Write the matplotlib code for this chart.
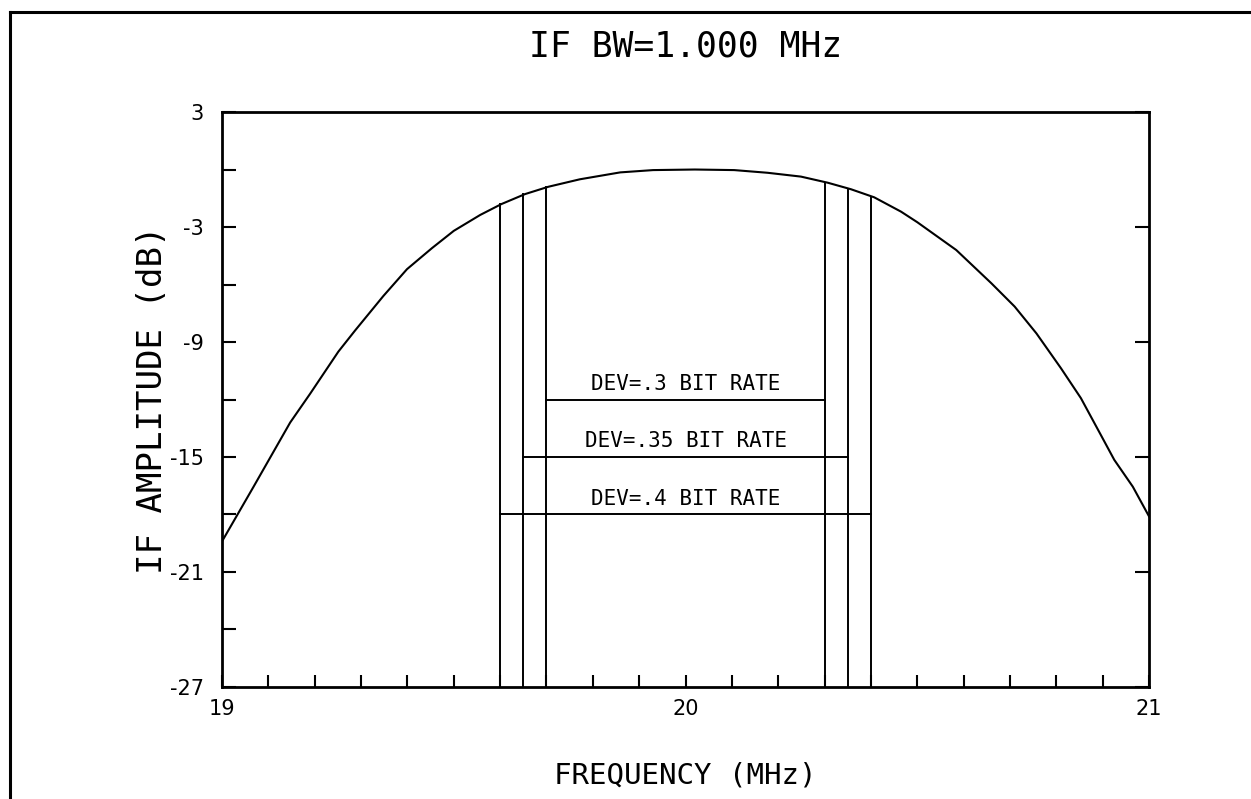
#if filter response chart with deviation markers
import numpy as np
import matplotlib
matplotlib.use("Agg")
import matplotlib.pyplot as plt
from matplotlib.lines import Line2D
from matplotlib.ticker import MultipleLocator, FixedLocator

#curve (MHz, dB)
freq_mhz = [19.0, 19.068, 19.147, 19.19, 19.251, 19.287, 19.348, 19.399, 19.453,
            19.5, 19.557, 19.603, 19.654, 19.704, 19.772, 19.859, 19.93, 20.02,
            20.105, 20.177, 20.249, 20.307, 20.357, 20.407, 20.465, 20.5, 20.584,
            20.66, 20.71, 20.757, 20.81, 20.853, 20.896, 20.925, 20.965, 21.0]
amp_db = [-19.4, -16.55, -13.2, -11.7, -9.5, -8.4, -6.6, -5.2, -4.1,
          -3.2, -2.37, -1.8, -1.28, -0.9, -0.51, -0.15, -0.03, 0.0,
          -0.03, -0.17, -0.37, -0.69, -1.03, -1.45, -2.2, -2.75, -4.2,
          -5.94, -7.15, -8.55, -10.37, -11.93, -13.85, -15.15, -16.55, -18.1]

#deviation markers
dev_labels = ["DEV=.3 BIT RATE", "DEV=.35 BIT RATE", "DEV=.4 BIT RATE"]
dev_lo = [19.7, 19.65, 19.6]
dev_hi = [20.3, 20.35, 20.4]
dev_level = [-12, -15, -18]
edge_lo_db = [-0.9, -1.28, -1.8]
edge_hi_db = [-0.69, -1.03, -1.45]

x_ticks = [19, 20, 21]
y_ticks = [3, -3, -9, -15, -21, -27]

fig = plt.figure(figsize=(12.51, 7.99), dpi=100)
ax = fig.add_axes([0.1775, 0.1402, 0.741, 0.7196])

ax.plot(freq_mhz, amp_db, color="black", lw=1.5)

for lab, lo, hi, lev, top_lo, top_hi in zip(dev_labels, dev_lo, dev_hi, dev_level, edge_lo_db, edge_hi_db):
    ax.plot([lo, lo], [-27, top_lo], color="black", lw=1.4)
    ax.plot([hi, hi], [-27, top_hi], color="black", lw=1.4)
    ax.plot([lo, hi], [lev, lev], color="black", lw=1.4)
    ax.annotate(lab, xy=((lo + hi) / 2, lev), xytext=(0, 4), textcoords="offset points",
                ha="center", va="bottom", fontsize=15, family="DejaVu Sans Mono")

ax.set_xlim(19, 21)
ax.set_ylim(-27, 3)
ax.set_xticks(x_ticks)
ax.set_xticklabels([str(v) for v in x_ticks])
ax.xaxis.set_minor_locator(MultipleLocator(0.1))
ax.set_yticks(y_ticks)
ax.set_yticklabels([str(v) for v in y_ticks])
ax.yaxis.set_minor_locator(FixedLocator([0, -6, -12, -18, -24]))

ax.tick_params(axis="x", which="both", direction="in", length=9, width=1.5,
               top=False, labelsize=15, pad=9)
ax.tick_params(axis="y", which="major", direction="in", length=10, width=1.5,
               left=True, right=True, labelsize=15, pad=13)
ax.tick_params(axis="y", which="minor", direction="in", length=10, width=1.5,
               left=True, right=False)
for s in ax.spines.values():
    s.set_linewidth(2)

ax.set_title("IF BW=1.000 MHz", fontsize=25, family="DejaVu Sans Mono", pad=40)
ax.set_xlabel("FREQUENCY (MHz)", fontsize=21, family="DejaVu Sans Mono", labelpad=30)
ax.set_ylabel("IF AMPLITUDE (dB)", fontsize=24.5, family="DejaVu Sans Mono", labelpad=1)

#outer page frame
fig.add_artist(Line2D([0.008, 1.0], [0.985, 0.985], transform=fig.transFigure, color="black", lw=2.2))
fig.add_artist(Line2D([0.008, 0.008], [0.0, 0.985], transform=fig.transFigure, color="black", lw=2.2))

fig.savefig("out.png", dpi=100)
